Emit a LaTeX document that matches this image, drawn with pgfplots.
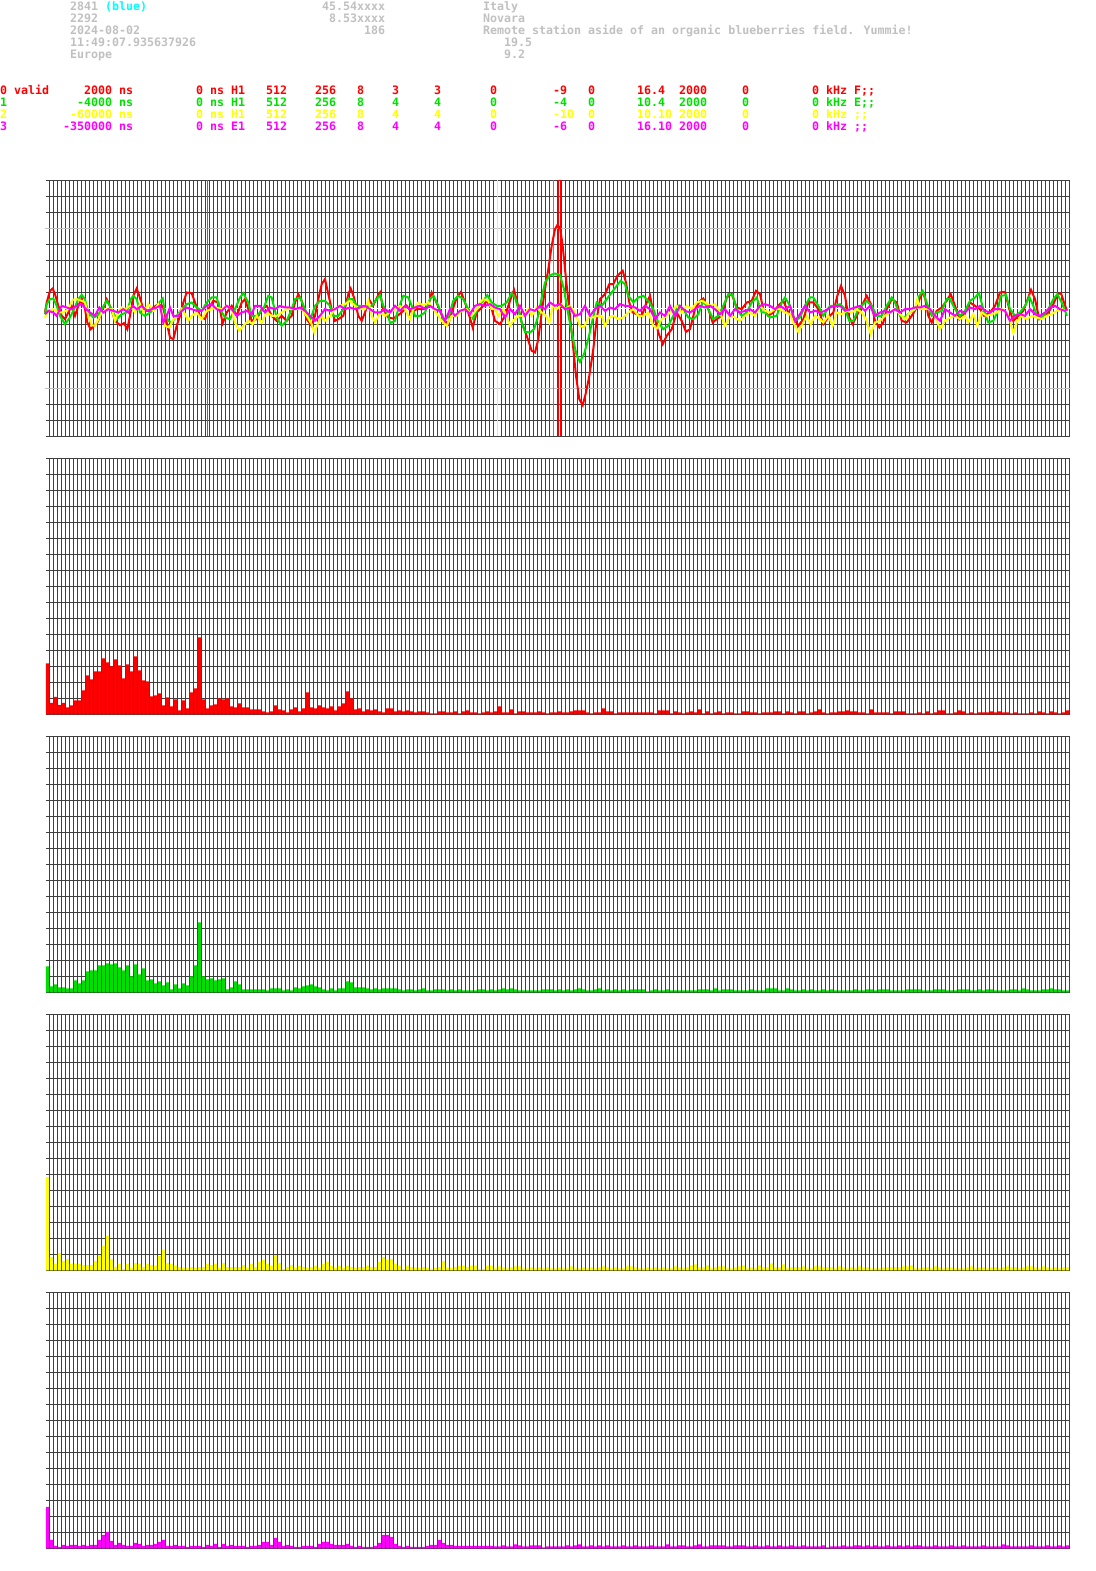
\documentclass[border=0pt]{standalone}
\usepackage{pgfplots}
\pgfplotsset{compat=1.18}
\usepackage{fontspec}
\newfontfamily\monof{DejaVu Sans Mono}
\definecolor{gridc}{HTML}{404040}
\definecolor{hdrgrey}{HTML}{C0C0C0}
\definecolor{cred}{HTML}{FF0000}
\definecolor{cgreen}{HTML}{00E000}
\definecolor{cyellow}{HTML}{FFFF00}
\definecolor{cmag}{HTML}{FF00FF}
\definecolor{ccyan}{HTML}{00FFFF}
\newcommand\mfont{\monof\bfseries\fontsize{11.63}{12}\selectfont}
\pgfplotsset{
  gridpanel/.style={
    scale only axis, width=1024pt, height=256pt,
    axis line style={draw=none}, tick style={draw=none},
    xticklabels={}, yticklabels={},
    grid=major, major grid style={draw=gridc, line width=1pt},
    anchor=south west, clip=false},
  barpanel/.style={gridpanel, xmin=0, xmax=256, ymin=0, ymax=256,
    xtick={0.875,1.875,...,255.875}, ytick={0,16,...,256}},
  barplot/.style={ybar, bar width=0.75, bar shift=0pt, draw=none, fill=#1},
}
\newcommand\tx[4]{\node[anchor=base west, inner sep=0pt, text=#1, font=\mfont] at ({7*#2},#3) {#4};}
\begin{document}
\begin{tikzpicture}[x=1pt,y=1pt]
\path[use as bounding box] (0,0) rectangle (1095,1571);
% ---------- header ----------
\tx{hdrgrey}{10}{1560}{2841}\tx{ccyan}{15}{1560}{(blue)}\tx{hdrgrey}{46}{1560}{45.54xxxx}\tx{hdrgrey}{69}{1560}{Italy}
\tx{hdrgrey}{10}{1548}{2292}\tx{hdrgrey}{47}{1548}{8.53xxxx}\tx{hdrgrey}{69}{1548}{Novara}
\tx{hdrgrey}{10}{1536}{2024-08-02}\tx{hdrgrey}{52}{1536}{186}\tx{hdrgrey}{69}{1536}{Remote station aside of an organic blueberries field. Yummie!}
\tx{hdrgrey}{10}{1524}{11:49:07.935637926}\tx{hdrgrey}{72}{1524}{19.5}
\tx{hdrgrey}{10}{1512}{Europe}\tx{hdrgrey}{72}{1512}{9.2}
\foreach \c/\t in {0/0 valid,12/2000,17/ns,28/0,30/ns,33/H1,38/512,45/256,51/8,56/3,62/3,70/0,79/-9,84/0,91/16.4,97/2000,106/0,116/0,118/kHz,122/F;;}{\tx{cred}{\c}{1476}{\t}}
\foreach \c/\t in {0/1,11/-4000,17/ns,28/0,30/ns,33/H1,38/512,45/256,51/8,56/4,62/4,70/0,79/-4,84/0,91/10.4,97/2000,106/0,116/0,118/kHz,122/E;;}{\tx{cgreen}{\c}{1464}{\t}}
\foreach \c/\t in {0/2,10/-60000,17/ns,28/0,30/ns,33/H1,38/512,45/256,51/8,56/4,62/4,70/0,79/-10,84/0,91/10.10,97/2000,106/0,116/0,118/kHz,122/;;}{\tx{cyellow}{\c}{1452}{\t}}
\foreach \c/\t in {0/3,9/-350000,17/ns,28/0,30/ns,33/E1,38/512,45/256,51/8,56/4,62/4,70/0,79/-6,84/0,91/16.10,97/2000,106/0,116/0,118/kHz,122/;;}{\tx{cmag}{\c}{1440}{\t}}
% ---------- waveform panel ----------
\begin{axis}[gridpanel, at={(46pt,1134.5pt)}, xmin=46, xmax=1070, ymin=34, ymax=802, y dir=reverse,
  xtick={49.5,53.5,...,1069.5}, ytick={34,82,...,802}]
\addplot[hdrgrey, line width=1pt, mark=none] coordinates {(45,178)(1070,178)};
\addplot[hdrgrey, line width=1pt, mark=none] coordinates {(45,658)(1070,658)};
\addplot[white, line width=1pt, mark=none] coordinates {(45,418)(1070,418)};
\addplot[cmag, line width=1pt, mark=none] coordinates {(207.5,34)(207.5,802)};
\addplot[cyellow, line width=1pt, mark=none] coordinates {(497.5,34)(497.5,802)};
\addplot[cgreen, line width=1pt, mark=none] coordinates {(553.5,34)(553.5,802)};
\addplot[cred, line width=1pt, mark=none] coordinates {(558.5,34)(558.5,802)};
\addplot[cred, line width=1pt, mark=none] coordinates {(560.5,34)(560.5,802)};
% red
\addplot[cred, line width=2pt, mark=none] coordinates {
(45,430)(46.7,400)(50,365)(52.7,358)(55,375)(58.3,410)(61.7,440)(65,450)(68.3,430)(71.7,410)(75,440)(78.3,410)(81.7,388)(85,420)(87.3,460)(90.7,480)(94,470)(97.3,460)(101.7,430)(106.7,390)(110,410)(115,455)(120,468)(124,462)(127.3,480)(130,440)(133.3,380)(136.7,358)(139.3,380)(143.3,420)(148.3,425)(153.3,415)(158.3,405)(162.7,410)(166.7,460)(170,505)(173.3,510)(176.7,470)(180,440)(183.3,400)(186.7,370)(191.7,372)(195,400)(200,440)(205,450)(208.3,420)(213.3,395)(218.3,400)(222.7,462)(226.7,430)(231.7,410)(236.7,440)(241.7,400)(245,390)(248.3,420)(251.7,455)(256.7,450)(261.7,420)(266.7,410)(271.7,440)(276.7,455)(281.7,440)(286.7,455)(291.7,440)(295,400)(298.3,375)(301.7,395)(306.7,450)(311.7,470)(315,440)(318.3,390)(321.7,345)(325,330)(328.3,375)(331.7,420)(335,455)(338.3,450)(343.3,440)(348.3,375)(350.7,358)(354,385)(358.3,440)(361.7,455)(365,430)(369.3,392)(373,410)(377,385)(380,370)
(383.3,420)(388.3,445)(393.3,448)(398.3,438)(403.3,425)(406.7,410)(411.7,430)(416.7,420)(423.3,420)(428.3,410)(431.7,370)(435,390)(439.3,420)(443.3,450)(448.3,465)(451.7,430)(456.7,385)(461,368)(465,400)(469.3,440)(472.7,475)(476.7,430)(481.7,415)(486.7,395)(491.7,420)(495,455)(500,465)(505,440)(510,395)(514,362)(517.3,400)(521.7,460)(526.7,500)(531.7,545)(535,550)(538.3,510)(541.7,430)(545,360)(548.3,300)(551.7,230)(555,180)(557.3,168)(560,175)(562.7,230)(566,330)(569.3,420)(572.7,520)(576,620)(579.3,690)(582.7,708)(586,670)(589.3,620)(593.3,540)(596.7,450)(600,390)(605,375)(609.3,345)(613.3,345)(617.3,320)(622.7,305)(626,340)(629.3,400)(632.7,430)(636.7,435)(641.7,440)(646.7,400)(650,380)(653.3,430)(658.3,490)(662.7,525)(666.7,500)(671.7,480)(676.7,430)(681.7,455)(686,488)(690,480)(695,420)(700,395)(703.3,388)(708.3,420)(712.7,460)(716.7,450)(721.7,440)(726.7,385)(731.7,375)(736.7,415)(741.7,420)(746.7,400)(751.7,395)(756,365)(760,375)
(763.3,420)(768.3,440)(773.3,430)(778.3,410)(783.3,395)(788.3,430)(793.3,445)(798.3,470)(803.3,450)(808.3,400)(813.3,400)(818.3,420)(823.3,465)(828.3,445)(833.3,430)(837.3,380)(841,350)(845,380)(848.3,440)(852.7,465)(856.7,440)(861.7,410)(866.7,380)(871.7,410)(875,455)(879.3,475)(883.3,460)(886.7,420)(891.7,390)(896.7,400)(901.7,455)(906.7,460)(911.7,440)(916.7,415)(921.7,370)(925,385)(928.3,440)(931.7,460)(936.7,425)(941.7,415)(946.7,395)(950.7,375)(955,410)(959.3,450)(965,430)(970,400)(975,410)(980,420)(984,440)(990,430)(995,410)(1000,370)(1005,368)(1009.3,420)(1013.3,455)(1018.3,440)(1023.3,425)(1027.7,390)(1031,362)(1035,390)(1039.3,450)(1043.3,445)(1048.3,430)(1053.3,405)(1057.7,375)(1061,372)(1064,400)(1067,425)};
% green
\addplot[cgreen, line width=2pt, mark=none] coordinates {
(45,435)(46.7,405)(50,390)(53.3,388)(56.7,410)(60,440)(65,465)(70,445)(74,420)(78.3,390)(81.7,377)(85,390)(88.3,430)(93.3,445)(97.3,440)(101.7,420)(106.7,395)(111.7,420)(116.7,450)(121.7,435)(126.7,430)(130.7,390)(133.3,380)(136.7,390)(140,430)(145,440)(150,430)(155,420)(159.3,400)(162.7,388)(165,430)(168.3,455)(171.7,460)(176.7,440)(181.7,420)(186.7,405)(191.7,400)(196.7,415)(201.7,425)(206.7,400)(211.7,385)(216.7,385)(220,420)(225,445)(230,450)(235,420)(240,385)(243.3,372)(248.3,400)(251.7,440)(256.7,440)(263.3,420)(268.3,380)(271.7,385)(276.7,445)(281.7,470)(286.7,455)(291.7,420)(295,390)(300,385)(305,420)(310,455)(315,410)(320,395)(325,395)(330,410)(333.3,440)(338.3,440)(343.3,420)(348.3,390)(352.7,390)(356.7,410)(361.7,410)(366.7,415)(371.7,410)(376.7,390)(380,378)
(383.3,410)(388.3,440)(390,462)(395,455)(398.3,420)(403.3,380)(408.3,385)(411.7,410)(415,440)(420,440)(425,430)(430,390)(433.3,380)(438.3,410)(443.3,450)(448.3,445)(453.3,395)(458.3,380)(463.3,390)(468.3,420)(473.3,450)(478.3,410)(483.3,395)(487.3,378)(491.7,400)(496.7,410)(501.7,410)(506.7,400)(511.7,372)(515,385)(518.3,420)(521.7,460)(525,488)(530,490)(534,480)(538.3,440)(541.7,385)(545,340)(550,318)(555,313)(560,318)(564,360)(567.3,420)(571.7,490)(576.7,560)(580,578)(584,555)(588.3,510)(592.7,450)(596.7,400)(601.7,410)(606.7,390)(611.7,370)(616.7,350)(620.7,335)(625,345)(628.3,380)(633.3,400)(638.3,385)(643.3,380)(648.3,395)(653.3,420)(658.3,460)(663.3,480)(668.3,470)(673.3,440)(678.3,410)(683.3,420)(688.3,445)(693.3,450)(698.3,435)(703.3,395)(708.3,420)(713.3,450)(718.3,440)(723.3,410)(728.3,375)(732.7,378)(736.7,420)(741.7,440)(746.7,430)(751.7,400)(756.7,385)(761.7,430)
(765,430)(770,445)(776.7,440)(781.7,400)(785,385)(790,410)(795,455)(800,445)(805,410)(810,385)(813.3,385)(818.3,410)(823.3,440)(830,410)(835,410)(840,405)(845,420)(849.3,455)(853.3,455)(858.3,420)(861.7,410)(866.7,395)(871.7,410)(876.7,440)(881.7,440)(886.7,410)(891.7,385)(895,400)(900,440)(905,445)(910,430)(915,420)(918.3,385)(922.7,365)(926.7,400)(931.7,440)(936.7,430)(941.7,425)(946.7,390)(950,390)(955,420)(960,440)(965,425)(970,395)(975,385)(979,372)(983.3,420)(988.3,460)(993.3,455)(997.3,430)(1000.7,380)(1006,378)(1010,420)(1015,440)(1020,430)(1025,410)(1029.3,383)(1033.3,410)(1038.3,450)(1043.3,440)(1048.3,420)(1053.3,390)(1057.3,375)(1061.7,400)(1067,440)};
% yellow
\addplot[cyellow, line width=2pt, mark=none] coordinates {
(45,445)(48.3,425)(53.3,420)(58.3,430)(63.3,430)(68.3,420)(72.7,392)(76.7,390)(81.7,395)(85,400)(88.3,440)(91.7,468)(95,470)(98.3,450)(101.7,430)(106.7,420)(111.7,420)(115,455)(118.3,430)(121.7,415)(125,420)(130,410)(135,430)(140,405)(143.3,430)(148.3,405)(153.3,425)(158.3,405)(162.7,440)(165,470)(169.3,475)(173.3,450)(178.3,440)(181.7,420)(185,435)(188.3,455)(191.7,440)(196.7,430)(201.7,450)(206.7,425)(211.7,420)(216.7,415)(221.7,420)(226.7,410)(231.7,420)(235,460)(239.3,485)(243.3,470)(248.3,455)(252.7,465)(256.7,440)(261.7,460)(266.7,430)(271.7,440)(276.7,440)(281.7,430)(286.7,420)(291.7,420)(296.7,420)(301.7,420)(306.7,440)(311.7,465)(314.3,490)(318.3,460)(321.7,440)(325,455)(330,440)(335,420)(340,410)(345,405)(350,395)(355,410)(360,420)(365,420)(368.3,395)(371.7,440)(375,460)(380,430)
(385,440)(390,430)(395,420)(400,410)(405,420)(410,450)(413.3,420)(418.3,400)(423.3,410)(428.3,400)(433.3,420)(438.3,440)(441.7,455)(446.7,470)(451.7,440)(456.7,440)(461.7,425)(466.7,420)(471.7,440)(476.7,420)(480,400)(483.3,390)(488.3,395)(491.7,420)(495,420)(498.3,440)(503.3,420)(506.7,440)(510,470)(513.3,455)(518.3,440)(523.3,440)(528.3,420)(531.7,440)(536.7,415)(541.7,430)(546,440)(549.3,460)(552.7,410)(556.7,420)(561.7,405)(565,420)(570,410)(575,430)(580,470)(584,475)(588.3,445)(593.3,445)(597.3,440)(601.7,440)(605,470)(609.3,445)(613.3,440)(618.3,450)(623.3,445)(628.3,430)(633.3,420)(638.3,440)(643.3,440)(648.3,430)(653.3,470)(656.7,478)(661.7,450)(666.7,440)(671.7,425)(676.7,410)(681.7,430)(686.7,410)(691.7,420)(696.7,400)(701.7,395)(705,400)(710,410)(715,405)(720,430)(725,470)(730,440)(735,445)(740,455)(745,440)(750,430)(755,440)(760,410)
(765,425)(770,430)(775,420)(780,420)(785,430)(790,435)(793.3,460)(798.3,488)(801.7,470)(806.7,440)(810.7,465)(815,440)(820,450)(823.3,460)(828.3,440)(832.7,470)(836.7,430)(841.7,435)(846.7,425)(851.7,430)(856.7,420)(861.7,430)(866,450)(870.7,495)(875,460)(880,455)(885,440)(890,430)(895,420)(900,435)(905,450)(910,430)(915,420)(917.3,390)(920,420)(925,420)(930,420)(935,440)(940,480)(945,455)(950,445)(955,440)(960,450)(965,440)(968.3,460)(973.3,435)(977.3,470)(981.7,430)(986.7,440)(991.7,435)(996.7,430)(1001.7,420)(1006.7,430)(1010,455)(1013.3,492)(1017.3,455)(1021.7,440)(1026.7,450)(1031.7,440)(1036.7,445)(1041.7,450)(1046.7,440)(1051.7,435)(1056.7,425)(1061.7,420)(1067,425)};
% magenta
\addplot[cmag, line width=2pt, mark=none] coordinates {
(45,435)(48.3,425)(53.3,430)(56.7,440)(61.7,410)(66.7,415)(71.7,420)(76.7,410)(81.7,405)(86,420)(90,430)(95,440)(99.3,415)(103.3,430)(108.3,420)(113.3,425)(118.3,430)(123.3,420)(128.3,430)(132.7,410)(136.7,420)(141.7,410)(146.7,425)(151.7,420)(156.7,415)(160,410)(163.3,460)(166.7,440)(170,415)(173.3,440)(178.3,440)(181.7,425)(186.7,415)(191.7,420)(196.7,425)(201.7,425)(206.7,410)(211.7,405)(216.7,420)(221.7,425)(226.7,410)(231.7,420)(236.7,440)(241.7,430)(246.7,425)(251.7,435)(255,410)(260,410)(265,430)(270,415)(275,420)(280,410)(285,415)(290,415)(295,420)(300,415)(305,425)(310,440)(315,455)(320,440)(325,420)(330,425)(335,420)(340,410)(345,420)(350,415)(355,420)(360,415)(365,410)(370,420)(375,430)
(380,430)(385,420)(390,430)(395,410)(400,425)(405,410)(410,420)(415,415)(420,410)(425,420)(430,410)(435,420)(440,425)(445,455)(450,420)(455,440)(460,425)(465,420)(470,435)(475,410)(480,405)(485,410)(490,405)(495,415)(500,420)(505,445)(510,420)(515,435)(520,410)(525,440)(530,420)(535,425)(540,410)(545,420)(550,400)(555,410)(560,405)(565,420)(570,415)(575,440)(580,435)(585,410)(590,440)(595,420)(600,410)(605,425)(610,415)(615,420)(620,405)(625,410)(630,410)(635,415)(640,425)(645,410)(650,420)(655,450)(660,430)(665,440)(670,410)(675,440)(680,410)(685,425)(690,430)(695,420)(700,410)(705,415)(710,410)(715,420)(720,435)(725,420)(730,440)(735,420)(740,430)(745,425)(750,420)(755,430)
(760,410)(765,405)(770,410)(775,420)(780,410)(785,420)(790,410)(795,455)(800,435)(805,410)(810,430)(815,425)(820,430)(825,425)(830,415)(835,410)(840,410)(845,425)(850,420)(855,415)(860,410)(865,425)(870,410)(875,440)(880,430)(885,425)(890,430)(895,420)(900,430)(905,420)(910,420)(915,415)(920,415)(925,410)(930,420)(935,440)(940,455)(945,420)(950,430)(955,440)(960,425)(965,430)(970,415)(975,420)(980,410)(985,425)(990,430)(995,420)(1000,420)(1005,425)(1010,455)(1015,440)(1020,435)(1025,440)(1030,420)(1035,435)(1040,440)(1045,430)(1050,415)(1055,410)(1060,420)(1065,425)(1067,420)};
\end{axis}
% ---------- spectrum panels ----------
\begin{axis}[barpanel, at={(46pt,856.5pt)}]
\addplot[barplot=cred] table[header=false, x expr=\coordindex+0.375, y index=0, row sep=\\] {
51\\11.7\\17.7\\9.7\\11.7\\7\\9\\14\\14\\24\\39\\35\\43\\43\\56\\52\\48\\55\\49\\36\\50\\43\\58\\44\\34\\33\\18\\19\\21\\9\\17\\8\\15\\4\\14\\6\\22\\26\\77\\15\\6\\9\\10\\16\\15\\16\\8\\7\\11\\7\\7\\5\\5\\5\\3\\2\\3\\9\\5\\4\\2\\5\\7\\3\\6\\22\\7\\6\\9\\7\\6\\8\\4\\8\\11\\23\\16\\5\\6\\3\\5\\4\\5\\3\\2\\6\\6\\3\\4\\
3\\4\\3\\2\\3\\3\\2\\1\\1\\3\\3\\2\\2\\3\\1\\3\\4\\2\\2\\1\\2\\3\\2\\3\\8\\2\\2\\5\\1\\3\\3\\2\\2\\2\\3\\2\\1\\2\\2\\3\\2\\2\\3\\4\\4\\4\\2\\1\\2\\2\\6\\3\\3\\1\\2\\2\\2\\2\\2\\2\\2\\2\\2\\1\\4\\4\\4\\1\\3\\2\\1\\2\\3\\2\\5\\1\\3\\1\\2\\3\\1\\2\\2\\1\\1\\3\\3\\2\\2\\1\\2\\2\\2\\3\\3\\1\\3\\2\\1\\3\\3\\1\\2\\3\\5\\2\\1\\2\\2\\3\\3\\4\\3\\3\\2\\2\\1\\5\\2\\2\\2\\2\\1\\3\\3\\3\\1\\1\\1\\2\\1\\3\\1\\2\\4\\4\\1\\1\\2\\4\\3\\1\\2\\1\\2\\2\\2\\3\\2\\3\\2\\2\\1\\2\\1\\1\\1\\2\\1\\3\\2\\1\\3\\2\\1\\2\\4\\
};
\end{axis}
\begin{axis}[barpanel, at={(46pt,578.5pt)}]
\addplot[barplot=cgreen] table[header=false, x expr=\coordindex+0.375, y index=0, row sep=\\] {
26\\6\\8\\5\\5\\4\\4\\12\\9\\12\\21\\22\\22\\27\\27\\29\\28\\29\\25\\22\\27\\16\\28\\18\\24\\12\\13\\9\\11\\7\\10\\3\\8\\4\\9\\7\\16\\27\\70\\16\\13\\14\\12\\13\\14\\3\\5\\11\\8\\3\\3\\3\\3\\3\\3\\2\\4\\4\\4\\2\\3\\2\\5\\4\\6\\7\\8\\6\\5\\3\\2\\4\\2\\4\\4\\11\\10\\5\\5\\5\\4\\3\\4\\3\\4\\4\\4\\4\\3\\
2\\3\\3\\2\\3\\4\\2\\2\\3\\3\\3\\2\\3\\2\\3\\2\\2\\2\\2\\3\\3\\2\\3\\2\\3\\4\\3\\4\\3\\2\\2\\2\\2\\2\\2\\3\\3\\3\\2\\3\\2\\3\\2\\3\\4\\3\\2\\2\\3\\4\\2\\3\\2\\3\\2\\3\\2\\3\\3\\3\\3\\1\\2\\3\\2\\2\\3\\2\\2\\2\\2\\2\\2\\2\\3\\3\\3\\2\\4\\2\\3\\3\\3\\2\\2\\2\\2\\3\\2\\2\\2\\4\\4\\4\\2\\2\\4\\3\\2\\2\\3\\2\\3\\2\\2\\3\\2\\3\\2\\2\\2\\2\\2\\3\\2\\2\\3\\3\\2\\3\\3\\3\\2\\2\\2\\2\\3\\3\\3\\3\\2\\2\\2\\3\\3\\3\\2\\2\\2\\3\\3\\3\\2\\2\\3\\2\\3\\3\\2\\2\\2\\2\\3\\3\\2\\4\\3\\2\\2\\2\\3\\3\\4\\3\\3\\2\\2\\
};
\end{axis}
\begin{axis}[barpanel, at={(46pt,300.5pt)}]
\addplot[barplot=cyellow] table[header=false, x expr=\coordindex+0.375, y index=0, row sep=\\] {
93.3\\13.3\\6.7\\17.3\\9.3\\11.3\\6.7\\6.7\\6.7\\5.3\\5.3\\5.3\\9.3\\15.3\\24.7\\34.7\\11.3\\3.3\\6.7\\1.3\\6.7\\2.7\\7.3\\6.7\\3.3\\6.7\\5.3\\4.7\\14.7\\20.7\\7.3\\6.7\\4.7\\3.3\\2.7\\2.7\\3.3\\2.7\\3.3\\3.3\\6.7\\5.3\\6.7\\2.7\\7.3\\3.3\\3.3\\3.3\\3.3\\5.3\\2.7\\6.7\\3.3\\8.7\\10.7\\6.7\\4.7\\15.3\\7.3\\1.3\\3.3\\5.3\\2.7\\4.7\\3.3\\2.7\\3.3\\4.7\\2.7\\6.7\\8.7\\4.7\\2.7\\4.7\\2.7\\4.7\\3.3\\2.7\\3.3\\3.3\\4.7\\3.3\\3.3\\8.7\\13.3\\10.7\\11.3\\6.7\\4.7\\1.3\\4.7\\3.3\\2.7\\2.7\\3.3\\2.7\\1.3\\2.7\\3.3\\9.3\\2.7\\2.7\\3.3\\4.7\\4.7\\3.3\\4.7\\4.7\\1.3\\1.3\\4.7\\4.7\\
2\\4\\3\\2\\3\\4\\4\\2\\2\\3\\2\\3\\2\\3\\2\\2\\3\\2\\2\\4\\2\\2\\3\\2\\3\\2\\3\\4\\3\\2\\3\\2\\2\\4\\4\\3\\2\\2\\3\\2\\3\\2\\3\\2\\2\\4\\3\\2\\3\\5\\6\\3\\3\\5\\2\\3\\4\\4\\2\\2\\3\\4\\5\\2\\3\\2\\5\\3\\3\\7\\3\\3\\6\\2\\3\\3\\3\\4\\2\\2\\4\\4\\3\\3\\3\\2\\4\\3\\2\\3\\2\\4\\3\\3\\2\\2\\2\\3\\3\\3\\3\\3\\4\\4\\5\\2\\2\\3\\3\\2\\4\\3\\2\\3\\3\\2\\2\\2\\3\\4\\2\\3\\3\\2\\3\\3\\2\\3\\4\\3\\3\\2\\3\\4\\4\\3\\2\\4\\3\\2\\3\\2\\3\\3\\
};
\end{axis}
\begin{axis}[barpanel, at={(46pt,22.5pt)}]
\addplot[barplot=cmag] table[header=false, x expr=\coordindex+0.375, y index=0, row sep=\\] {
41.7\\8.7\\2.7\\1.7\\3.7\\2.7\\3.7\\3.7\\2.7\\3.7\\2.7\\3.7\\3.7\\8.7\\13.7\\16.7\\7.7\\3.7\\5.7\\3.7\\2.7\\2.7\\5.7\\4.7\\2.7\\3.7\\3.7\\4.7\\6.7\\8.7\\2.7\\2.7\\3.7\\2.7\\2.7\\1.7\\2.7\\2.7\\2.7\\1.7\\3.7\\2.7\\4.7\\1.7\\4.7\\2.7\\3.7\\2.7\\2.7\\2.7\\1.7\\2.7\\2.7\\3.7\\6.7\\6.7\\3.7\\10.7\\6.7\\2.7\\3.7\\2.7\\1.7\\1.7\\2.7\\2.7\\2.7\\1.7\\4.7\\6.7\\6.7\\4.7\\3.7\\3.7\\3.7\\4.7\\2.7\\1.7\\2.7\\1.7\\1.7\\1.7\\2.7\\5.7\\13.7\\13.7\\11.7\\4.7\\2.7\\1.7\\2.7\\1.7\\1.7\\1.7\\1.7\\2.7\\3.7\\3.7\\8.7\\5.7\\3.7\\3.7\\2.7\\2.7\\2.7\\2.7\\2.7\\2.7\\2.7\\2.7\\2.7\\2.7\\
2\\2\\3\\2\\2\\4\\3\\2\\2\\3\\3\\3\\1\\2\\2\\2\\2\\2\\3\\2\\3\\4\\2\\2\\3\\2\\3\\2\\3\\2\\2\\2\\3\\2\\2\\3\\2\\2\\2\\3\\2\\2\\2\\4\\2\\2\\3\\3\\2\\2\\3\\4\\2\\2\\3\\3\\3\\3\\2\\2\\3\\3\\3\\2\\2\\3\\2\\2\\3\\2\\2\\3\\2\\2\\3\\2\\2\\3\\2\\2\\2\\2\\3\\1\\2\\2\\2\\3\\2\\2\\3\\3\\2\\3\\2\\3\\2\\2\\3\\2\\2\\3\\2\\3\\2\\3\\3\\2\\2\\2\\3\\2\\2\\2\\3\\2\\2\\3\\2\\2\\2\\2\\3\\2\\2\\2\\2\\4\\3\\2\\2\\2\\2\\2\\3\\2\\2\\2\\3\\2\\2\\3\\2\\3\\
};
\end{axis}
\end{tikzpicture}
\end{document}
